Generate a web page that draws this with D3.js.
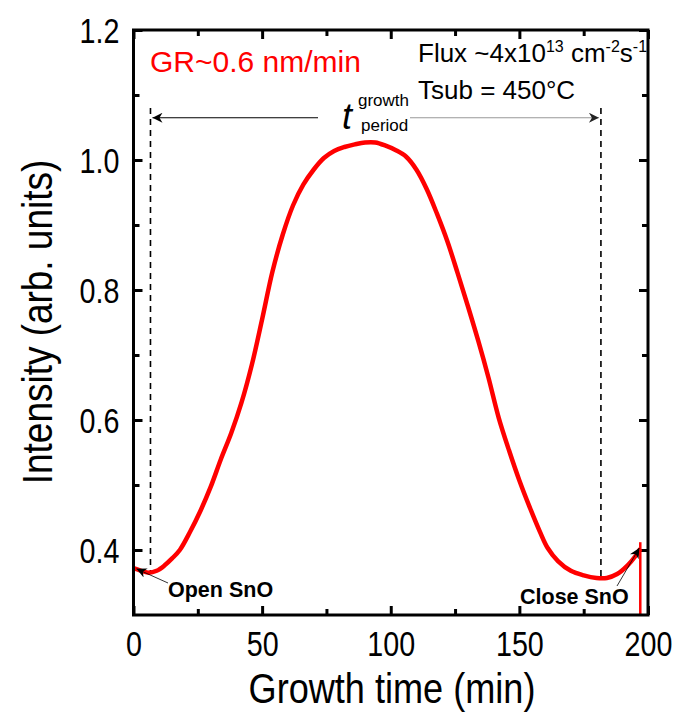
<!DOCTYPE html>
<html><head><meta charset="utf-8">
<script src="https://cdn.jsdelivr.net/npm/d3@7"></script>
<style>body{margin:0;background:#fff}svg{display:block}text{font-family:"Liberation Sans",Arial,sans-serif}</style>
</head><body>
<script>
const timeMin = [0,3,6,9,12,15,18,22,26,30,34,38,42,46,50,54,58,62,66,70,74,78,82,86,90,94,98,102,106,110,114,118,122,126,130,134,138,142,146,150,154,158,161,165,170,175,180,184,188,192,195,197];
const intensity = [0.372,0.368,0.365,0.368,0.376,0.387,0.400,0.428,0.460,0.497,0.540,0.580,0.627,0.685,0.755,0.828,0.885,0.930,0.962,0.985,1.003,1.014,1.020,1.024,1.027,1.027,1.022,1.015,1.005,0.985,0.955,0.917,0.875,0.826,0.775,0.722,0.665,0.603,0.553,0.507,0.466,0.428,0.403,0.383,0.368,0.361,0.357,0.357,0.363,0.376,0.390,0.402];
const xTicks = [0,50,100,150,200];
const xMinor = [25,75,125,175];
const yTicks = [0.4,0.6,0.8,1.0,1.2];
const yMinor = [0.5,0.7,0.9,1.1];
const openT = 6.6, closeT = 181.7;
const switchOffT = 197;

const W=678,H=718;
const m={l:133.5,r:30,t:30,b:103};
const SX=0.82;
const svg=d3.select("body").append("svg").attr("width",W).attr("height",H);
const x=d3.scaleLinear().domain([0,200]).range([m.l,W-m.r]);
const y=d3.scaleLinear().domain([0.3,1.2]).range([H-m.b,m.t]);
const data=timeMin.map((t,i)=>({t,v:intensity[i]}));

const g=svg.append("g");
const axB=g.append("g").attr("transform",`translate(0,${y(0.3)})`).call(d3.axisBottom(x).tickValues(xTicks).tickSize(-9).tickPadding(16).tickFormat(d3.format("d")));
g.append("g").attr("transform",`translate(0,${y(0.3)})`).call(d3.axisBottom(x).tickValues(xMinor).tickSize(-6).tickFormat(""));
g.append("g").attr("transform",`translate(0,${y(1.2)})`).call(d3.axisTop(x).tickValues(xTicks).tickSize(-9).tickFormat(""));
g.append("g").attr("transform",`translate(0,${y(1.2)})`).call(d3.axisTop(x).tickValues(xMinor).tickSize(-6).tickFormat(""));
const axL=g.append("g").attr("transform",`translate(${x(0)},0)`).call(d3.axisLeft(y).tickValues(yTicks).tickSize(-9).tickPadding(14).tickFormat(d3.format(".1f")));
g.append("g").attr("transform",`translate(${x(0)},0)`).call(d3.axisLeft(y).tickValues(yMinor).tickSize(-6).tickFormat(""));
g.append("g").attr("transform",`translate(${x(200)},0)`).call(d3.axisRight(y).tickValues(yTicks).tickSize(-9).tickFormat(""));
g.append("g").attr("transform",`translate(${x(200)},0)`).call(d3.axisRight(y).tickValues(yMinor).tickSize(-6).tickFormat(""));
g.selectAll(".domain").remove();
g.attr("font-family",null);
g.selectAll(".tick line").attr("stroke","#000").attr("stroke-width",3);
g.selectAll(".tick text").attr("font-size",35).attr("fill","#000").attr("transform",`scale(${SX},1)`);
axL.selectAll(".tick text").attr("dy","0.36em").attr("x",-14/SX);

const curveAt=t=>d3.scaleLinear().domain(timeMin).range(intensity)(t);
[openT,closeT].forEach(t=>{
  svg.append("line").attr("x1",x(t)).attr("x2",x(t)).attr("y1",y(1.08)).attr("y2",y(curveAt(t)))
    .attr("stroke","#000").attr("stroke-width",1.6).attr("stroke-dasharray","6,5");
});

const defs=svg.append("defs");
function marker(id,color,w,h){
  defs.append("marker").attr("id",id).attr("viewBox","0 0 10 10").attr("refX",10).attr("refY",5)
   .attr("markerWidth",w).attr("markerHeight",h).attr("markerUnits","userSpaceOnUse").attr("orient","auto")
   .append("path").attr("d","M0,0 L10,5 L0,10 L3,5 Z").attr("fill",color);
}
marker("ab","#000",18,10);
marker("ag","#222",18,10);
marker("as","#000",14,10);
svg.append("line").attr("x1",318).attr("x2",x(openT)+2).attr("y1",y(1.065)).attr("y2",y(1.065))
  .attr("stroke","#000").attr("stroke-width",1).attr("marker-end","url(#ab)");
svg.append("line").attr("x1",410).attr("x2",x(closeT)-2).attr("y1",y(1.065)).attr("y2",y(1.065))
  .attr("stroke","#999").attr("stroke-width",1).attr("marker-end","url(#ag)");

svg.append("text").attr("x",342).attr("y",129).attr("font-size",36).attr("font-style","italic").text("t");
svg.append("text").attr("x",358).attr("y",106).attr("font-size",17).text("growth");
svg.append("text").attr("x",361).attr("y",131).attr("font-size",17).text("period");

svg.append("path").datum(data).attr("fill","none").attr("stroke","#ff0000").attr("stroke-width",4.5)
  .attr("stroke-linejoin","round")
  .attr("d",d3.line().x(d=>x(d.t)).y(d=>y(d.v)).curve(d3.curveCatmullRom.alpha(0.5)));
svg.append("line").attr("x1",x(switchOffT)).attr("x2",x(switchOffT)).attr("y1",y(0.412)).attr("y2",y(0.3))
  .attr("stroke","#ff0000").attr("stroke-width",2.5);

svg.append("rect").attr("x",x(0)).attr("y",y(1.2)).attr("width",x(200)-x(0)).attr("height",y(0.3)-y(1.2))
  .attr("fill","none").attr("stroke","#000").attr("stroke-width",3);

svg.append("text").attr("x",168).attr("y",597).attr("font-size",21.5).attr("font-weight","bold").text("Open SnO");
svg.append("line").attr("x1",168).attr("y1",583).attr("x2",x(0)+3).attr("y2",y(0.371))
  .attr("stroke","#000").attr("stroke-width",0.8).attr("marker-end","url(#as)");
svg.append("text").attr("x",520).attr("y",604).attr("font-size",21.5).attr("font-weight","bold").text("Close SnO");
svg.append("line").attr("x1",617).attr("y1",586).attr("x2",x(switchOffT)-1).attr("y2",y(0.403))
  .attr("stroke","#000").attr("stroke-width",0.8).attr("marker-end","url(#as)");

svg.append("text").attr("x",150).attr("y",72).attr("font-size",30).attr("fill","#ff0000").text("GR~0.6 nm/min");
const f=svg.append("text").attr("x",418).attr("y",62).attr("font-size",26).attr("fill","#000");
f.append("tspan").text("Flux ~4x10");
f.append("tspan").attr("font-size",16).attr("dy",-10).text("13");
f.append("tspan").attr("dy",10).text(" cm");
f.append("tspan").attr("font-size",16).attr("dy",-10).text("-2");
f.append("tspan").attr("dy",10).text("s");
f.append("tspan").attr("font-size",16).attr("dy",-10).text("-1");
svg.append("text").attr("x",418).attr("y",99).attr("font-size",26).text("Tsub = 450°C");

svg.append("g").attr("transform","translate(392,703)").append("text").attr("transform","scale(0.86,1)")
  .attr("text-anchor","middle").attr("font-size",42).text("Growth time (min)");
svg.append("g").attr("transform","translate(52,322) rotate(-90)").append("text").attr("transform","scale(0.88,1)")
  .attr("text-anchor","middle").attr("font-size",42).text("Intensity (arb. units)");
</script>
</body></html>
